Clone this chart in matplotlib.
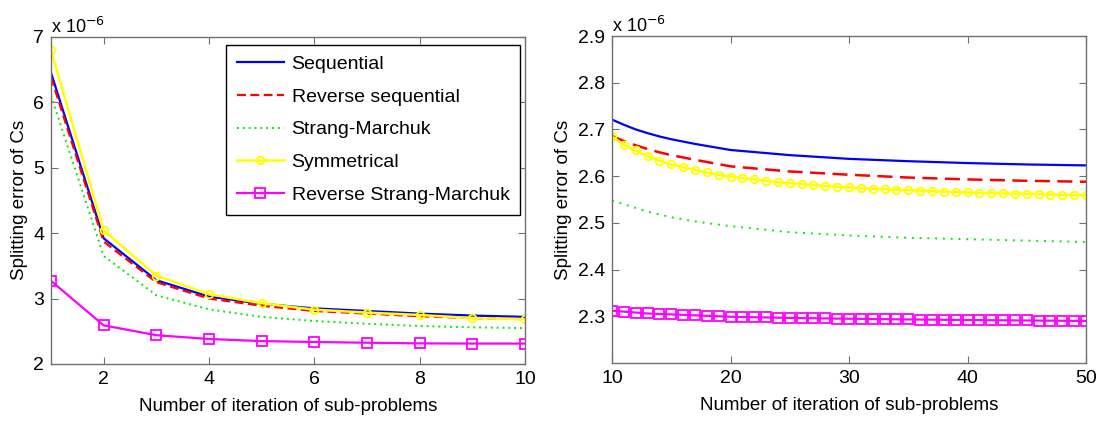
import matplotlib
matplotlib.use("Agg")
import matplotlib.pyplot as plt

plt.rcParams['font.family'] = ['Liberation Sans', 'DejaVu Sans']

# ---- Left panel data (values in units of 1e-6) ----
x_left = [1, 2, 3, 4, 5, 6, 7, 8, 9, 10]
seq_left = [6.45, 3.92, 3.28, 3.03, 2.92, 2.85, 2.81, 2.77, 2.74, 2.72]
rseq_left = [6.38, 3.87, 3.25, 3.00, 2.89, 2.81, 2.77, 2.73, 2.70, 2.686]
sm_left = [6.10, 3.65, 3.05, 2.835, 2.72, 2.657, 2.615, 2.58, 2.56, 2.548]
sym_left = [6.79, 4.04, 3.35, 3.066, 2.928, 2.83, 2.785, 2.749, 2.70, 2.685]
rsm_left = [3.27, 2.59, 2.44, 2.382, 2.35, 2.336, 2.325, 2.315, 2.312, 2.312]

# ---- Right panel data (values in units of 1e-6) ----
x_line = [10, 11, 12, 13, 14, 15, 17, 20, 25, 30, 35, 40, 45, 50]
seq_right = [2.721, 2.710, 2.700, 2.692, 2.685, 2.679, 2.669, 2.656, 2.645,
             2.637, 2.632, 2.628, 2.625, 2.623]
rseq_right = [2.686, 2.675, 2.666, 2.658, 2.651, 2.645, 2.635, 2.621, 2.610,
              2.603, 2.597, 2.593, 2.590, 2.588]
sm_right = [2.548, 2.540, 2.532, 2.524, 2.518, 2.512, 2.503, 2.493, 2.480,
            2.473, 2.468, 2.465, 2.462, 2.459]

x_mark = list(range(10, 51))
sym_right = [2.685, 2.667, 2.655, 2.643, 2.633, 2.625, 2.619, 2.613, 2.608, 2.603,
             2.599, 2.596, 2.593, 2.590, 2.587, 2.585, 2.583, 2.581, 2.579, 2.577,
             2.576, 2.574, 2.573, 2.572, 2.571, 2.570, 2.569, 2.568, 2.567, 2.566,
             2.565, 2.564, 2.5635, 2.563, 2.5625, 2.562, 2.561, 2.5605, 2.560, 2.5595,
             2.559]
rsm_right = [2.312, 2.310, 2.308, 2.306, 2.305, 2.304, 2.303, 2.302, 2.301, 2.300,
             2.299, 2.2985, 2.298, 2.2975, 2.297, 2.2965, 2.296, 2.2958, 2.2955, 2.295,
             2.2948, 2.2945, 2.294, 2.2938, 2.2935, 2.2932, 2.293, 2.2928, 2.2925, 2.2922,
             2.292, 2.2918, 2.2916, 2.2914, 2.2912, 2.291, 2.2908, 2.2906, 2.2904, 2.2902,
             2.290]

labels = ["Sequential", "Reverse sequential", "Strang-Marchuk", "Symmetrical",
          "Reverse Strang-Marchuk"]

BLUE, RED, GREEN, YEL, MAG = '#0000ff', '#ff0000', '#00ee00', '#ffff00', '#ff00ff'
SPINE = '#707070'

fig = plt.figure(figsize=(11.03, 4.21), dpi=100)
axL = fig.add_axes([51/1103, 1-364/421, (525-51)/1103, (364-36.7)/421])
axR = fig.add_axes([612/1103, 1-363/421, (1086-612)/1103, (363-36)/421])

def style(ax):
    for s in ax.spines.values():
        s.set_color(SPINE)
        s.set_linewidth(1.0)
    ax.tick_params(direction='in', top=True, right=True, length=5,
                   color=SPINE, labelsize=14, labelcolor='black', pad=5)
    ax.set_xlabel("Number of iteration of sub-problems", fontsize=13.5, labelpad=7)
    ax.set_ylabel("Splitting error of Cs", fontsize=13.5, labelpad=4)
    ax.text(0.0, 1.0, r"x 10$^{-6}$", transform=ax.transAxes, fontsize=13,
            ha='left', va='bottom')

# Left
axL.plot(x_left, seq_left, color=BLUE, lw=1.6, label=labels[0])
axL.plot(x_left, rseq_left, color=RED, lw=1.6, ls=(0, (4, 2)), label=labels[1])
axL.plot(x_left, sm_left, color=GREEN, lw=1.4, ls=(0, (1, 2)), label=labels[2])
axL.plot(x_left, sym_left, color=YEL, lw=1.8, marker='o', ms=5.5, mfc='none',
         mew=1.3, label=labels[3])
axL.plot(x_left, rsm_left, color=MAG, lw=1.6, marker='s', ms=6.5, mfc='none',
         mew=1.3, label=labels[4])
axL.set_xlim(1, 10)
axL.set_ylim(2, 7)
axL.set_xticks([2, 4, 6, 8, 10])
axL.set_yticks([2, 3, 4, 5, 6, 7])
style(axL)
leg = axL.legend(loc='upper right', bbox_to_anchor=(0.99, 0.976), borderaxespad=0,
                 fontsize=14, fancybox=False, framealpha=1, edgecolor='black',
                 handlelength=2.4, labelspacing=0.78, borderpad=0.55,
                 handletextpad=0.4)
leg.get_frame().set_linewidth(1.0)

# Right
axR.plot(x_line, seq_right, color=BLUE, lw=1.6)
axR.plot(x_line, rseq_right, color=RED, lw=1.8, ls=(0, (6, 3)))
axR.plot(x_line, sm_right, color=GREEN, lw=1.4, ls=(0, (1, 3)))
axR.plot(x_mark, sym_right, color=YEL, lw=1.8, marker='o', ms=5.5, mfc='none', mew=1.3)
axR.plot(x_mark, rsm_right, color=MAG, lw=1.6, marker='s', ms=6.5, mfc='none', mew=1.3)
axR.set_xlim(10, 50)
axR.set_ylim(2.2, 2.9)
axR.set_xticks([10, 20, 30, 40, 50])
axR.set_yticks([2.3, 2.4, 2.5, 2.6, 2.7, 2.8, 2.9])
axR.set_yticklabels(["2.3", "2.4", "2.5", "2.6", "2.7", "2.8", "2.9"])
style(axR)

fig.savefig("out.png", dpi=100)
